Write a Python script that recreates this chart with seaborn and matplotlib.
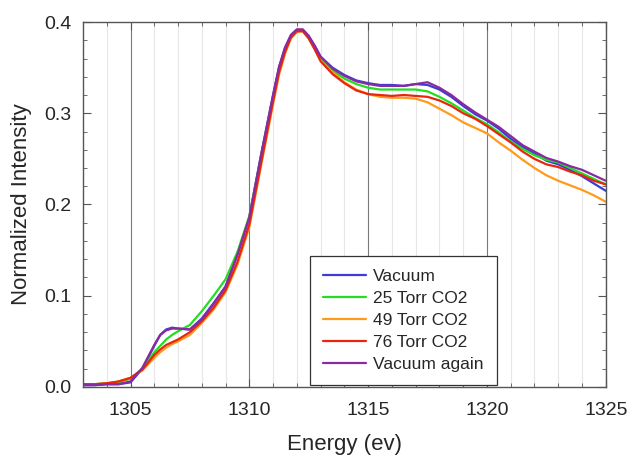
import numpy as np
import pandas as pd
import matplotlib
matplotlib.use("Agg")
import matplotlib.pyplot as plt
from matplotlib.ticker import MultipleLocator
import seaborn as sns

energy = [1303, 1303.5, 1304, 1304.5, 1305, 1305.5, 1306, 1306.25, 1306.5, 1306.75,
          1307, 1307.5, 1308, 1308.5, 1309, 1309.5, 1310, 1310.5, 1311, 1311.25,
          1311.5, 1311.75, 1312, 1312.25, 1312.5, 1312.75, 1313, 1313.5, 1314, 1314.5,
          1315, 1315.5, 1316, 1316.5, 1317, 1317.5, 1318, 1318.5, 1319, 1319.5,
          1320, 1320.5, 1321, 1321.5, 1322, 1322.5, 1323, 1323.5, 1324, 1324.5, 1325]

vacuum = [0.002, 0.002, 0.003, 0.003, 0.005, 0.020, 0.045, 0.057, 0.063, 0.065,
          0.064, 0.063, 0.075, 0.092, 0.110, 0.145, 0.186, 0.255, 0.320, 0.350,
          0.371, 0.385, 0.391, 0.391, 0.384, 0.374, 0.362, 0.350, 0.342, 0.336,
          0.333, 0.331, 0.331, 0.330, 0.332, 0.331, 0.326, 0.318, 0.308, 0.299,
          0.292, 0.283, 0.272, 0.263, 0.256, 0.248, 0.244, 0.238, 0.231, 0.223, 0.215]

torr25 = [0.003, 0.003, 0.004, 0.005, 0.009, 0.020, 0.038, 0.045, 0.052, 0.057,
          0.061, 0.068, 0.083, 0.100, 0.118, 0.148, 0.187, 0.254, 0.318, 0.348,
          0.369, 0.384, 0.390, 0.390, 0.383, 0.372, 0.360, 0.347, 0.338, 0.332,
          0.328, 0.326, 0.326, 0.326, 0.326, 0.324, 0.318, 0.311, 0.303, 0.295,
          0.288, 0.279, 0.269, 0.261, 0.254, 0.249, 0.246, 0.240, 0.234, 0.228, 0.222]

torr49 = [0.003, 0.003, 0.004, 0.006, 0.010, 0.018, 0.032, 0.038, 0.043, 0.047,
          0.050, 0.057, 0.070, 0.085, 0.104, 0.134, 0.175, 0.243, 0.310, 0.342,
          0.365, 0.382, 0.389, 0.390, 0.382, 0.371, 0.358, 0.345, 0.334, 0.326,
          0.321, 0.318, 0.317, 0.317, 0.316, 0.312, 0.305, 0.298, 0.290, 0.284,
          0.278, 0.268, 0.259, 0.249, 0.240, 0.232, 0.226, 0.221, 0.216, 0.210, 0.203]

torr76 = [0.003, 0.003, 0.004, 0.006, 0.010, 0.019, 0.035, 0.041, 0.046, 0.049,
          0.052, 0.060, 0.072, 0.087, 0.106, 0.137, 0.178, 0.246, 0.313, 0.345,
          0.367, 0.383, 0.390, 0.390, 0.382, 0.370, 0.357, 0.343, 0.333, 0.325,
          0.321, 0.320, 0.319, 0.320, 0.319, 0.318, 0.314, 0.308, 0.300, 0.294,
          0.286, 0.277, 0.268, 0.258, 0.250, 0.244, 0.241, 0.236, 0.232, 0.226, 0.222]

vacuum_again = [0.002, 0.002, 0.003, 0.003, 0.006, 0.021, 0.046, 0.057, 0.062, 0.064,
                0.064, 0.063, 0.074, 0.091, 0.110, 0.145, 0.186, 0.255, 0.320, 0.351,
                0.372, 0.386, 0.392, 0.392, 0.385, 0.374, 0.362, 0.349, 0.341, 0.335,
                0.332, 0.330, 0.330, 0.330, 0.332, 0.334, 0.328, 0.320, 0.310, 0.301,
                0.293, 0.285, 0.275, 0.265, 0.258, 0.251, 0.247, 0.242, 0.238, 0.232, 0.226]

labels = ["Vacuum", "25 Torr CO2", "49 Torr CO2", "76 Torr CO2", "Vacuum again"]
colors = ["#3c3cd8", "#22dd22", "#ff9a1a", "#e8260e", "#8a2aa0"]
series = [vacuum, torr25, torr49, torr76, vacuum_again]

frames = []
for lab, vals in zip(labels, series):
    frames.append(pd.DataFrame({"Energy": energy, "Intensity": vals, "Series": lab}))
df = pd.concat(frames, ignore_index=True)

sns.set_style("white")
plt.rcParams["font.family"] = ["Liberation Sans", "DejaVu Sans"]

fig = plt.figure(figsize=(6.31, 4.59), dpi=100)
ax = fig.add_axes([0.1315, 0.157, 0.8285, 0.795])

sns.lineplot(data=df, x="Energy", y="Intensity", hue="Series",
             hue_order=labels, palette=dict(zip(labels, colors)),
             linewidth=1.6, ax=ax, legend=False, sort=False)

ax.set_xlim(1303, 1325)
ax.set_ylim(0, 0.4)
ax.xaxis.set_major_locator(MultipleLocator(5))
ax.xaxis.set_minor_locator(MultipleLocator(1))
ax.yaxis.set_major_locator(MultipleLocator(0.1))
ax.yaxis.set_minor_locator(MultipleLocator(0.02))
ax.yaxis.set_major_formatter(matplotlib.ticker.FormatStrFormatter("%.1f"))

ax.grid(False)
ax.grid(True, axis="x", which="major", color="#7a7a7a", linewidth=0.8)
ax.grid(True, axis="x", which="minor", color="#e6e6e6", linewidth=0.8)
ax.set_axisbelow(True)

for s in ax.spines.values():
    s.set_color("#555555")
    s.set_linewidth(1.0)

ax.tick_params(which="both", direction="in", top=True, right=True,
               left=True, bottom=True, color="#555555")
ax.tick_params(which="major", length=6, labelsize=14)
ax.tick_params(axis="x", which="major", pad=11)
ax.tick_params(axis="y", which="major", pad=8)
ax.tick_params(which="minor", length=3)

ax.set_xlabel("Energy (ev)", fontsize=16, labelpad=11)
ax.set_ylabel("Normalized Intensity", fontsize=16, labelpad=9)

handles = [plt.Line2D([0], [0], color=c, linewidth=1.6) for c in colors]
leg = ax.legend(handles, labels, loc="lower left", bbox_to_anchor=(0.434, 0.005),
                fontsize=12.5, frameon=True, fancybox=False, framealpha=1,
                edgecolor="#333333", handlelength=2.5, borderpad=0.75,
                labelspacing=0.39, handletextpad=0.4, borderaxespad=0)
leg.get_frame().set_linewidth(0.9)

fig.savefig("out.png", dpi=100)
